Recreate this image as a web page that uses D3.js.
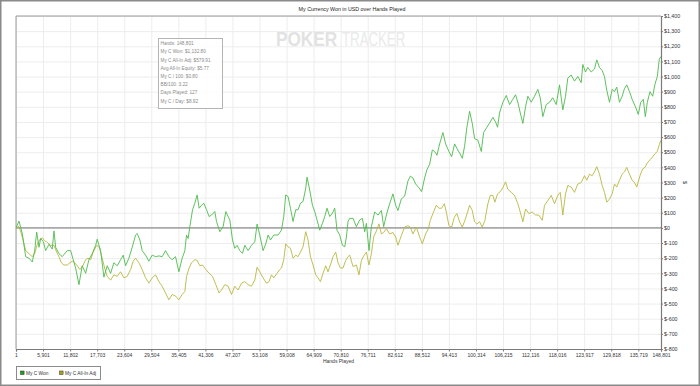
<!DOCTYPE html>
<html>
<head>
<meta charset="utf-8">
<script src="https://cdn.jsdelivr.net/npm/d3@7"></script>
<style>
  html, body { margin: 0; padding: 0; background: #fff; }
  svg { display: block; font-family: "Liberation Sans", Arial, sans-serif; }
</style>
</head>
<body>
<div id="chart"></div>
<script>
'use strict';

var chartTitle = 'My Currency Won in USD over Hands Played';
var xAxisTitle = 'Hands Played';
var yAxisTitle = '$';
var seriesNames = ['My C Won', 'My C All-In Adj'];
var seriesColors = ['#4cba4c', '#b8b842'];
var legendColors = ['#1e9e1e', '#a6a61c'];

var xTickLabels = [1, 5901, 11802, 17703, 23604, 29504, 35405, 41306, 47207, 53108, 59008, 64909,
    70810, 76711, 82612, 88512, 94413, 100314, 106215, 112116, 118016, 123917, 129818, 135719, 148801];

var yTickValues = [-800, -700, -600, -500, -400, -300, -200, -100, 0, 100, 200, 300, 400, 500,
    600, 700, 800, 900, 1000, 1100, 1200, 1300, 1400];

var statsLines = [
    'Hands: 148,801',
    'My C Won: $1,132.80',
    'My C All-In Adj: $579.91',
    'Avg All-In Equity: $5.77',
    'My C / 100: $0.80',
    'BB/100: 3.22',
    'Days Played: 127',
    'My C / Day: $8.92'
];

// [hands, dollars]
var wonData = [
    [1, 0], [654, 45], [1373, -37], [2114, -190], [2833, -200], [3552, -225], [4075, -150], [4511, -28],
    [5012, -128], [5382, -70], [5949, -90], [6472, -150], [7191, -108], [7910, -140], [8280, -20], [8651, -128],
    [9370, -170], [10089, -190], [11178, -150], [11919, -150], [12486, -210], [13009, -265], [13728, -375],
    [14447, -250], [15188, -300], [15907, -210], [16626, -170], [17367, -115], [17715, -75], [18456, -150],
    [19175, -325], [19894, -250], [20635, -300], [21354, -230], [22073, -250], [22814, -210], [23381, -180],
    [23903, -250], [24623, -200], [25342, -128], [26083, -47], [26431, -37], [27020, -80], [27521, -150],
    [28262, -180], [28981, -220], [29700, -180], [30441, -190], [31160, -185], [31879, -190], [32620, -150],
    [33339, -190], [34058, -210], [34799, -190], [35518, -290], [36237, -200], [36607, -170], [36825, -150],
    [37196, -47], [37544, -70], [37915, 8], [38503, 120], [39004, 163], [39505, 218], [39941, 130],
    [40464, 150], [40965, 163], [41554, 120], [42120, 75], [42643, 85], [43362, 108], [43733, 42],
    [44452, -25], [45171, 8], [45759, 108], [46260, 75], [46631, 53], [47219, -80], [47720, -135],
    [48221, -115], [48810, -150], [49398, -168], [49899, -115], [50618, -150], [51359, -115], [52078, -92],
    [52579, 25], [53168, -47], [53887, -150], [54475, -105], [54976, -47], [55499, -80], [56218, -47],
    [57155, -47], [57896, -15], [58397, 75], [58833, 218], [59334, 207], [59857, 130], [60424, 42],
    [61012, 120], [61513, 120], [62036, 163], [62603, 175], [63191, 262], [63474, 335], [64063, 250],
    [64651, 150], [65152, 108], [65653, 53], [66242, -15], [66830, 30], [67331, 75], [67832, 130],
    [68421, 75], [69009, 97], [69510, 130], [70011, -15], [70600, -47], [71188, -115], [71689, -125],
    [72059, -60], [72408, 42], [72779, 63], [73498, 63], [74239, 8], [74958, 53], [75546, 63],
    [76047, -25], [76418, 30], [76984, -150], [77507, 8], [78226, 105], [78945, 85], [79686, 115],
    [80187, 8], [80776, 85], [81495, 160], [82214, 225], [82802, 150], [83303, 115], [84044, 192],
    [84763, 210], [85482, 310], [86005, 342], [86571, 330], [87160, 290], [87879, 265], [88467, 240],
    [89121, 330], [89622, 385], [90211, 420], [90799, 515], [91300, 505], [91801, 480], [92390, 555],
    [93109, 630], [93697, 555], [94416, 505], [95004, 470], [95658, 555], [96159, 525], [96748, 495],
    [97336, 460], [97837, 540], [98338, 665], [98927, 770], [99515, 690], [100016, 590], [100735, 580],
    [101476, 505], [101977, 630], [102696, 665], [103437, 700], [104003, 730], [104592, 700], [105028, 665],
    [105464, 760], [106183, 830], [106924, 875], [107643, 815], [108362, 850], [108951, 880], [109452, 830],
    [109975, 760], [110541, 690], [111129, 800], [111630, 870], [112371, 830], [113090, 870], [113809, 915],
    [114332, 860], [114899, 735], [115640, 815], [116359, 830], [117078, 860], [117819, 815], [118538, 945],
    [119257, 780], [119845, 870], [120346, 990], [121087, 1010], [121806, 970], [122525, 1000], [123266, 960],
    [123615, 1080], [124203, 1030], [124704, 1060], [125445, 1030], [126164, 1050], [126665, 1110],
    [127254, 1060], [127842, 1040], [128343, 1000], [128844, 910], [129433, 830], [130021, 915], [130522, 900],
    [131023, 930], [131612, 830], [132200, 870], [132701, 920], [133202, 945], [133791, 900], [134379, 850],
    [135098, 800], [135719, 750], [137102, 830], [138600, 850], [139753, 735], [140905, 830], [142461, 900],
    [144017, 870], [145343, 950], [146668, 1000], [147821, 1115], [148801, 1132.8]
];

var adjData = [
    [1, 0], [654, 10], [1373, -60], [2114, -150], [2833, -170], [3552, -190], [4075, -170], [4641, -108],
    [5230, -75], [5731, -65], [6254, -85], [6820, -95], [7561, -115], [8280, -115], [8869, -160], [9370, -190],
    [9871, -230], [10459, -245], [11178, -245], [11767, -230], [12268, -220], [12791, -230], [13357, -250],
    [13946, -275], [14665, -245], [15188, -210], [15689, -200], [16277, -210], [16844, -160], [17585, -115],
    [18151, -128], [18805, -200], [19328, -265], [19894, -320], [20635, -345], [21354, -310], [22073, -320],
    [22814, -290], [23533, -330], [24252, -320], [24993, -275], [25560, -220], [26083, -200], [26802, -230],
    [27521, -275], [28262, -330], [28981, -365], [29700, -330], [30441, -310], [31160, -355], [31879, -385],
    [32620, -430], [33339, -475], [34058, -440], [34799, -450], [35518, -475], [36237, -440], [36825, -420],
    [37196, -320], [37762, -265], [38285, -230], [39004, -210], [39505, -215], [40094, -250], [40682, -245],
    [41401, -275], [42120, -300], [42861, -320], [43580, -375], [44299, -430], [44822, -410], [45541, -375],
    [46260, -385], [47001, -440], [47720, -385], [48439, -410], [49180, -365], [49899, -355], [50618, -375],
    [51359, -385], [52078, -345], [52579, -260], [53168, -290], [53887, -330], [54628, -365], [55194, -355],
    [55717, -310], [56218, -330], [56937, -300], [57526, -275], [57896, -265], [58397, -210], [58833, -105],
    [59334, -125], [59857, -135], [60424, -200], [61012, -180], [61513, -190], [62036, -160], [62603, -125],
    [63191, -25], [63692, -80], [64215, -190], [64781, -245], [65370, -310], [65871, -330], [66394, -355],
    [66960, -300], [67549, -250], [68050, -290], [68573, -245], [69139, -190], [69728, -160], [70229, -230],
    [70752, -265], [71318, -265], [71907, -215], [72408, -190], [72779, -180], [73498, -255], [74239, -245],
    [74805, -310], [75328, -215], [75829, -185], [76418, -160], [76984, -245], [77507, -170], [78008, -60],
    [78597, -20], [79163, 27], [79686, -40], [80187, -30], [80776, -5], [81495, -40], [82214, -30],
    [82802, -60], [83303, -115], [84044, -50], [84763, 5], [85482, 15], [86005, 5], [86571, -40],
    [87312, 5], [88032, -60], [88620, -105], [89339, -40], [89928, -5], [90363, 50], [90930, 95],
    [91671, 150], [92237, 130], [92825, 130], [93414, 160], [93849, 105], [94416, 15], [95004, 5],
    [95593, 70], [96159, 95], [96748, 40], [97336, 5], [97903, 50], [98491, 105], [98927, 150],
    [99515, 115], [100016, 40], [100517, 25], [101106, 40], [101694, 5], [102261, 50], [102914, 160],
    [103437, 215], [104003, 215], [104439, 170], [105028, 225], [105617, 240], [106183, 265], [106771, 305],
    [107272, 255], [108013, 235], [108732, 215], [109452, 160], [109975, 105], [110541, 40], [111129, 125],
    [111848, 95], [112589, 105], [113308, 85], [114027, 85], [114768, 50], [115269, 150], [115988, 180],
    [116729, 215], [117448, 160], [118167, 215], [118690, 235], [119257, 85], [119845, 225], [120346, 280],
    [121087, 270], [121806, 235], [122525, 290], [123266, 300], [123985, 345], [124486, 315], [125075, 355],
    [125663, 345], [126164, 370], [126665, 405], [127254, 355], [127842, 280], [128343, 235], [128844, 170],
    [129433, 190], [130021, 225], [130522, 290], [131023, 270], [131612, 315], [132200, 355], [132701, 370],
    [133202, 400], [133791, 355], [134379, 315], [134880, 300], [135381, 270], [136699, 345], [138255, 390],
    [139580, 400], [140906, 430], [142462, 450], [144018, 470], [145343, 490], [146669, 505], [147821, 550],
    [148801, 579.91]
];


var width = 700;
var height = 386;
var plot = { left: 16, right: 661, top: 16, bottom: 349 };

// the reference spaces its regular ticks evenly and squeezes the last one in at the end
var lastRegularTickX = plot.left + 622.3;

function money( v ) {
    var f = d3.format(',');
    return v < 0 ? '$-' + f( -v ) : '$' + f( v );
}

function drawChart() {

    var svg = d3.select('#chart').append('svg')
        .attr('width', width)
        .attr('height', height);

    var x = d3.scaleLinear()
        .domain([ 1, xTickLabels[ xTickLabels.length - 2 ], xTickLabels[ xTickLabels.length - 1 ] ])
        .range([ plot.left, lastRegularTickX, plot.right ]);

    var y = d3.scaleLinear()
        .domain([ yTickValues[0], yTickValues[ yTickValues.length - 1 ] ])
        .range([ plot.bottom, plot.top ]);

    // outer frame
    svg.append('rect')
        .attr('x', 0.75).attr('y', 0.75)
        .attr('width', width - 1.5).attr('height', height - 1.5)
        .attr('fill', '#fff')
        .attr('stroke', '#8a8a8a')
        .attr('stroke-width', 1.5);

    svg.append('text')
        .attr('x', 352).attr('y', 11)
        .attr('text-anchor', 'middle')
        .attr('font-size', '5.3px')
        .attr('fill', '#222')
        .text( chartTitle );

    // grid
    svg.append('g')
        .attr('class', 'grid')
        .attr('transform', 'translate(0,' + plot.bottom + ')')
        .call( d3.axisBottom( x ).tickValues( xTickLabels ).tickSize( -(plot.bottom - plot.top) ).tickFormat('') )
        .call( function( g ) { g.select('.domain').remove(); } )
        .selectAll('line').attr('stroke', '#ededed');

    svg.append('g')
        .attr('class', 'grid')
        .attr('transform', 'translate(' + plot.left + ',0)')
        .call( d3.axisRight( y ).tickValues( yTickValues ).tickSize( plot.right - plot.left ).tickFormat('') )
        .call( function( g ) { g.select('.domain').remove(); } )
        .selectAll('line').attr('stroke', '#ededed');

    // watermark, two words squeezed horizontally
    svg.append('text')
        .attr('transform', 'translate(276,46) scale(0.82,1)')
        .attr('font-size', '21px')
        .attr('font-weight', 'bold')
        .attr('fill', '#e2e2e2')
        .text('POKER');
    svg.append('text')
        .attr('transform', 'translate(342,46) scale(0.63,1)')
        .attr('font-size', '21px')
        .attr('fill', '#eaeaea')
        .text('TRACKER');

    // plot frame on left and top
    svg.append('path')
        .attr('d', 'M' + plot.left + ',' + plot.bottom + 'V' + plot.top + 'H' + plot.right)
        .attr('fill', 'none')
        .attr('stroke', '#9a9a9a')
        .attr('stroke-width', 1);

    // zero line
    svg.append('line')
        .attr('x1', plot.left).attr('x2', plot.right)
        .attr('y1', y(0)).attr('y2', y(0))
        .attr('stroke', '#8c8c8c')
        .attr('stroke-width', 1.2);

    var line = d3.line()
        .x( function( d ) { return x( d[0] ); } )
        .y( function( d ) { return y( d[1] ); } );

    [ adjData, wonData ].forEach( function( data, i ) {
        svg.append('path')
            .datum( data )
            .attr('d', line)
            .attr('fill', 'none')
            .attr('stroke', seriesColors[ 1 - i ])
            .attr('stroke-width', 0.9)
            .attr('stroke-linejoin', 'round');
    });

    // axes
    var xAxis = svg.append('g')
        .attr('transform', 'translate(0,' + plot.bottom + ')')
        .call( d3.axisBottom( x ).tickValues( xTickLabels ).tickSize( 2.5 ).tickPadding( 1.5 ).tickFormat( d3.format(',') ) );
    xAxis.selectAll('text').attr('font-size', '5px').attr('fill', '#333');

    var yAxis = svg.append('g')
        .attr('transform', 'translate(' + plot.right + ',0)')
        .call( d3.axisRight( y ).tickValues( yTickValues ).tickSize( 2 ).tickPadding( 1 ).tickFormat( money ) );
    yAxis.selectAll('text').attr('font-size', '5.3px').attr('fill', '#333');

    [ xAxis, yAxis ].forEach( function( g ) {
        g.attr('font-family', null);
        g.select('.domain').attr('stroke', '#7a7a7a').attr('stroke-width', 1.2);
        g.selectAll('.tick line').attr('stroke', '#7a7a7a');
    });

    svg.append('text')
        .attr('x', (plot.left + plot.right) / 2).attr('y', 363)
        .attr('text-anchor', 'middle')
        .attr('font-size', '5px')
        .attr('fill', '#333')
        .text( xAxisTitle );

    svg.append('text')
        .attr('transform', 'translate(683,' + ((plot.top + plot.bottom) / 2) + ') rotate(90)')
        .attr('text-anchor', 'middle')
        .attr('font-size', '5.5px')
        .attr('fill', '#333')
        .text( yAxisTitle );

    // stats box
    var stats = svg.append('g').attr('transform', 'translate(158.5,38.5)');
    stats.append('rect')
        .attr('width', 64).attr('height', 70)
        .attr('fill', '#fff')
        .attr('fill-opacity', 0.85)
        .attr('stroke', '#b4b4b4');
    stats.selectAll('text')
        .data( statsLines )
        .enter()
            .append('text')
            .attr('x', 2)
            .attr('y', function( d, i ) { return 6.6 + i * 8.2; })
            .attr('font-size', '4.7px')
            .attr('fill', '#8a8a8a')
            .text( function( d ) { return d; });

    // legend
    var legend = svg.append('g').attr('transform', 'translate(16.5,366.5)');
    legend.append('rect')
        .attr('width', 84).attr('height', 13)
        .attr('fill', '#fff')
        .attr('stroke', '#8a8a8a');

    var legendX = [ 4, 43 ];
    seriesNames.forEach( function( name, i ) {
        legend.append('rect')
            .attr('x', legendX[i]).attr('y', 4.5)
            .attr('width', 3.6).attr('height', 3.6)
            .attr('fill', legendColors[i])
            .attr('stroke', '#333')
            .attr('stroke-width', 0.5);
        legend.append('text')
            .attr('x', legendX[i] + 5.5).attr('y', 8.4)
            .attr('font-size', '4.8px')
            .attr('fill', '#333')
            .text( name );
    });
}

drawChart();
</script>
</body>
</html>
